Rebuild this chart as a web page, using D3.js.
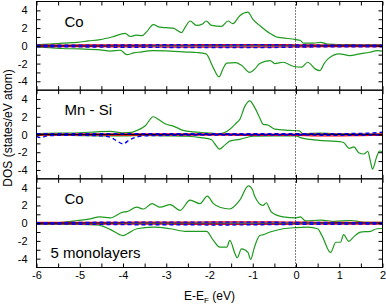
<!DOCTYPE html>
<html>
<head>
<meta charset="utf-8">
<script src="https://cdn.jsdelivr.net/npm/d3@7"></script>
<style>
    body { margin: 0; background: #fff; }
    svg text { font-family: "Liberation Sans", Arial, sans-serif; fill: #000; }
    .axis path { display: none; }
    .axis line { stroke: #000; }
</style>
</head>
<body>
<svg id="chart" width="386" height="305"></svg>
<script>
// energy grid (eV) for the small s/p curves
var eGrid = [-6, -5.5, -5, -4.5, -4, -3.5, -3, -2.5, -2, -1.5, -1, -0.5, 0, 0.5, 1, 1.5, 2];

var panelNames = ["Co", "Mn - Si", "Co"];
var xTickLabels = [-6, -5, -4, -3, -2, -1, 0, 1, 2];
var yTickLabels = [-4, -2, 0, 2, 4];

// ---- top panel: Co (d, majority / minority) ----
var coTopUp = [[-6,0.15],[-5.7,0.2],[-5.4,0.3],[-5.05,0.4],[-4.8,0.55],[-4.53,0.7],[-4.25,1.0],[-3.95,1.4],[-3.83,1.05],
    [-3.7,1.2],[-3.56,1.15],[-3.45,1.6],[-3.3,2.4],[-3.15,2.1],[-3.0,2.05],[-2.84,2.0],[-2.65,1.5],[-2.55,2.2],[-2.45,2.8],
    [-2.3,2.3],[-2.15,2.5],[-2.08,2.8],[-1.95,2.3],[-1.72,2.2],[-1.57,2.8],[-1.46,2.5],[-1.3,3.4],[-1.11,3.8],[-1.0,3.0],
    [-0.84,2.3],[-0.6,1.4],[-0.45,1.0],[-0.31,0.9],[0,0.7],[0.1,0.6],[0.18,0.3],[0.4,0.3],[0.57,0.4],[0.72,0.2],[1.0,0.15],
    [1.3,0.15],[1.6,0.1],[2,0.1]];
var coTopDn = [[-6,-0.15],[-5.7,-0.2],[-5.4,-0.3],[-5.0,-0.35],[-4.53,-0.45],[-4.3,-0.6],[-4.06,-0.5],[-3.91,-1.0],[-3.75,-0.8],
    [-3.6,-0.7],[-3.3,-0.55],[-2.9,-0.6],[-2.53,-0.7],[-2.3,-0.75],[-2.08,-0.9],[-1.92,-2.4],[-1.78,-3.5],[-1.68,-2.5],
    [-1.6,-1.95],[-1.4,-1.9],[-1.26,-2.2],[-1.07,-3.0],[-0.95,-2.6],[-0.84,-2.0],[-0.6,-1.66],[-0.49,-2.0],[-0.3,-1.85],
    [-0.07,-2.3],[0.13,-2.4],[0.27,-1.85],[0.44,-2.6],[0.55,-2.8],[0.65,-2.0],[0.74,-1.47],[1.0,-0.9],[1.24,-1.1],
    [1.47,-0.9],[1.7,-0.72],[1.88,-0.55],[2,-0.6]];
var coTopRedUp  = [0.08,0.08,0.10,0.10,0.10,0.12,0.12,0.12,0.14,0.15,0.15,0.14,0.12,0.10,0.08,0.08,0.08];
var coTopRedDn  = [-0.08,-0.08,-0.10,-0.10,-0.12,-0.12,-0.14,-0.14,-0.15,-0.15,-0.15,-0.14,-0.12,-0.10,-0.10,-0.10,-0.10];
var coTopBlueUp = [0.06,0.06,0.08,0.08,0.10,0.10,0.12,0.12,0.12,0.12,0.14,0.12,0.10,0.08,0.06,0.06,0.06];
var coTopBlueDn = [-0.10,-0.10,-0.12,-0.14,-0.16,-0.16,-0.18,-0.18,-0.18,-0.18,-0.20,-0.18,-0.14,-0.12,-0.12,-0.12,-0.12];

// ---- middle panel: Mn - Si ----
var mnUp = [[-6,0.1],[-5.5,0.15],[-5.0,0.2],[-4.6,0.3],[-4.3,0.35],[-4.0,0.2],[-3.8,0.25],[-3.68,0.45],[-3.49,0.95],
    [-3.3,2.0],[-3.15,1.6],[-3.0,1.15],[-2.84,0.95],[-2.61,0.47],[-2.38,0.3],[-2.07,0.2],[-1.76,0.1],[-1.53,0.6],
    [-1.38,1.3],[-1.3,1.7],[-1.18,3.2],[-1.07,3.8],[-0.95,3.0],[-0.84,1.9],[-0.76,1.15],[-0.65,1.07],[-0.49,0.6],
    [-0.15,0.47],[0.08,0.4],[0.16,0.1],[0.55,0.15],[1.0,0.08],[1.5,0.05],[2,0.05]];
var mnDn = [[-6,-0.1],[-5.5,-0.1],[-5.0,-0.12],[-4.5,-0.15],[-4.0,-0.15],[-3.5,-0.1],[-3.0,-0.15],[-2.5,-0.2],[-2.2,-0.35],
    [-1.95,-0.6],[-1.87,-1.1],[-1.77,-1.65],[-1.65,-1.2],[-1.53,-0.75],[-1.3,-0.55],[-1.0,-0.2],[-0.5,-0.15],[0,-0.15],
    [0.1,-0.36],[0.33,-0.55],[0.73,-0.73],[1.0,-0.8],[1.1,-0.9],[1.23,-1.56],[1.34,-1.4],[1.45,-2.05],[1.57,-2.2],
    [1.66,-1.9],[1.72,-3.0],[1.77,-3.9],[1.86,-2.6],[1.93,-1.86],[2,-2.0]];
var mnRedUp  = [0.05,0.05,0.06,0.06,0.06,0.08,0.08,0.06,0.06,0.06,0.05,0.05,0.05,0.05,0.05,0.05,0.06];
var mnRedDn  = [-0.06,-0.06,-0.08,-0.08,-0.08,-0.08,-0.08,-0.08,-0.08,-0.08,-0.10,-0.10,-0.10,-0.15,-0.15,-0.12,-0.10];
var mnBlueUp = [0.08,0.10,0.10,0.10,0.08,0.08,0.08,0.08,0.08,0.08,0.08,0.08,0.08,0.10,0.10,0.12,0.25];
var mnBlueDn = [[-6,-0.2],[-5.9,-0.35],[-5.75,-0.15],[-5.5,-0.1],[-5,-0.1],[-4.5,-0.15],[-4.3,-0.3],[-4.15,-0.7],
    [-4.0,-1.05],[-3.85,-0.6],[-3.7,-0.3],[-3.5,-0.15],[-3,-0.1],[-2,-0.05],[-1,-0.05],[0,-0.05],[1,-0.1],[2,-0.05]];

// ---- bottom panel: Co, 5 monolayers ----
var coBotUp = [[-6,0.05],[-5.68,0.0],[-5.3,0.15],[-5.06,0.3],[-4.8,0.45],[-4.53,0.7],[-4.3,0.6],[-4.0,1.25],[-3.91,1.3],
    [-3.68,1.8],[-3.53,1.6],[-3.33,2.2],[-3.14,1.8],[-2.91,2.1],[-2.68,1.45],[-2.45,2.6],[-2.22,2.2],[-2.05,3.05],
    [-1.91,2.2],[-1.76,1.8],[-1.53,1.6],[-1.3,2.6],[-1.1,4.2],[-1.0,3.7],[-0.96,3.1],[-0.76,2.0],[-0.69,2.3],
    [-0.57,1.25],[-0.3,0.7],[0,0.6],[0.1,0.7],[0.22,0.25],[0.57,0.35],[0.9,0.2],[1.26,0.3],[1.6,0.1],[2,0.1]];
var coBotDn = [[-6,-0.1],[-5.5,-0.15],[-5.0,-0.15],[-4.6,-0.2],[-4.3,-0.7],[-4.0,-1.4],[-3.9,-1.2],[-3.68,-0.63],
    [-3.3,-0.45],[-2.9,-0.63],[-2.53,-0.93],[-2.07,-0.93],[-1.91,-1.95],[-1.76,-2.7],[-1.6,-2.7],[-1.53,-1.95],
    [-1.41,-3.45],[-1.36,-3.9],[-1.26,-2.9],[-1.11,-3.3],[-1.05,-4.1],[-0.96,-2.7],[-0.84,-1.4],[-0.76,-1.3],
    [-0.6,-1.0],[-0.3,-0.63],[0,-0.5],[0.27,-0.45],[0.5,-0.63],[0.6,-1.4],[0.8,-3.3],[0.92,-2.15],[1.03,-2.15],
    [1.1,-1.3],[1.22,-2.05],[1.33,-1.57],[1.49,-1.0],[1.72,-0.93],[1.87,-0.63],[2,-0.6]];
var coBotRedUp  = [0.08,0.08,0.08,0.10,0.10,0.12,0.12,0.12,0.14,0.14,0.15,0.14,0.12,0.10,0.08,0.08,0.08];
var coBotRedDn  = [-0.08,-0.08,-0.10,-0.10,-0.12,-0.12,-0.12,-0.14,-0.14,-0.15,-0.15,-0.14,-0.12,-0.12,-0.10,-0.10,-0.10];
var coBotBlueUp = [0.06,0.06,0.08,0.10,0.10,0.12,0.12,0.12,0.12,0.12,0.12,0.10,0.08,0.08,0.06,0.06,0.06];
var coBotBlueDn = [-0.10,-0.10,-0.12,-0.14,-0.16,-0.18,-0.18,-0.18,-0.20,-0.20,-0.18,-0.16,-0.14,-0.12,-0.12,-0.10,-0.10];

var panels = [
    { up: coTopUp, dn: coTopDn, redUp: coTopRedUp, redDn: coTopRedDn, blueUp: coTopBlueUp, blueDn: coTopBlueDn },
    { up: mnUp, dn: mnDn, redUp: mnRedUp, redDn: mnRedDn, blueUp: mnBlueUp, blueDn: mnBlueDn },
    { up: coBotUp, dn: coBotDn, redUp: coBotRedUp, redDn: coBotRedDn, blueUp: coBotBlueUp, blueDn: coBotBlueDn }
];

function onGrid(vals) {
    return vals.map(function (v, i) { return [eGrid[i], v]; });
}
function asPairs(vals) {
    return typeof vals[0] === "number" ? onGrid(vals) : vals;
}

var svg = d3.select("#chart");
var margin = { top: 1.5, right: 3.5, bottom: 37.5, left: 36.5 };
var width = +svg.attr("width") - margin.left - margin.right;
var height = +svg.attr("height") - margin.top - margin.bottom;
var panelH = height / 3;

var xScale = d3.scaleLinear().domain([-6, 2]).range([0, width]);
var yScale = d3.scaleLinear().domain([-5, 5]).range([panelH, 0]);

var xMinor = d3.range(-6, 2.001, 0.5);
var yMinor = d3.range(-4, 4.001, 1);

var line = d3.line()
    .x(function (d) { return xScale(d[0]); })
    .y(function (d) { return yScale(d[1]); })
    .curve(d3.curveMonotoneX);

var root = svg.append("g")
    .attr("transform", "translate(" + margin.left + "," + margin.top + ")");

panels.forEach(function (p, i) {
    var g = root.append("g").attr("transform", "translate(0," + (i * panelH) + ")");

    g.append("path").datum(p.up).attr("d", line)
        .attr("fill", "none").attr("stroke", "#1e9a1e").attr("stroke-width", 1.2);
    g.append("path").datum(p.dn).attr("d", line)
        .attr("fill", "none").attr("stroke", "#1e9a1e").attr("stroke-width", 1.2);

    [p.redUp, p.redDn].forEach(function (s) {
        g.append("path").datum(asPairs(s)).attr("d", line)
            .attr("fill", "none").attr("stroke", "#ff0000").attr("stroke-width", 1.2);
    });

    g.append("line")
        .attr("x1", xScale(-6)).attr("x2", xScale(2))
        .attr("y1", yScale(0)).attr("y2", yScale(0))
        .attr("stroke", "#000").attr("stroke-width", 1);

    [p.blueUp, p.blueDn].forEach(function (s) {
        g.append("path").datum(asPairs(s)).attr("d", line)
            .attr("fill", "none").attr("stroke", "#0000ff").attr("stroke-width", 1.4)
            .attr("stroke-dasharray", "4,3");
    });

    var yLeft = d3.axisLeft(yScale)
        .tickValues(yMinor)
        .tickFormat(function (d) { return yTickLabels.indexOf(d) >= 0 ? String(d) : ""; })
        .tickSizeInner(-4).tickSizeOuter(0).tickPadding(9);
    var yRight = d3.axisRight(yScale)
        .tickValues(yMinor).tickFormat("")
        .tickSizeInner(-4).tickSizeOuter(0);
    var xTop = d3.axisTop(xScale)
        .tickValues(xMinor).tickFormat("")
        .tickSizeInner(-4).tickSizeOuter(0);
    var xBottom = d3.axisBottom(xScale)
        .tickValues(xMinor)
        .tickFormat(function (d) { return (i === 2 && xTickLabels.indexOf(d) >= 0) ? String(d) : ""; })
        .tickSizeInner(-4).tickSizeOuter(0).tickPadding(4);

    g.append("g").attr("class", "axis").call(yLeft)
        .selectAll("text").attr("font-size", 11).style("font-family", "Liberation Sans, Arial, sans-serif");
    g.append("g").attr("class", "axis").attr("transform", "translate(" + width + ",0)").call(yRight);
    g.append("g").attr("class", "axis").call(xTop);
    g.append("g").attr("class", "axis").attr("transform", "translate(0," + panelH + ")").call(xBottom)
        .selectAll("text").attr("font-size", 11).style("font-family", "Liberation Sans, Arial, sans-serif");

    g.append("rect")
        .attr("width", width).attr("height", panelH)
        .attr("fill", "none").attr("stroke", "#000").attr("stroke-width", 1);

    g.append("text")
        .attr("x", 28).attr("y", 25)
        .attr("font-size", 15)
        .text(panelNames[i]);
});

root.append("text")
    .attr("x", 14).attr("y", 2 * panelH + 79)
    .attr("font-size", 15)
    .text("5 monolayers");

// Fermi level
root.append("line")
    .attr("x1", xScale(0) - 0.5).attr("x2", xScale(0) - 0.5)
    .attr("y1", 0).attr("y2", height)
    .attr("stroke", "#000").attr("stroke-width", 1)
    .attr("stroke-dasharray", "1,2");

var xt = svg.append("text")
    .attr("x", margin.left + width / 2).attr("y", 300)
    .attr("text-anchor", "middle").attr("font-size", 12);
xt.append("tspan").text("E-E");
xt.append("tspan").attr("font-size", 8).attr("dy", 3).text("F");
xt.append("tspan").attr("dy", -3).text(" (eV)");

svg.append("text")
    .attr("transform", "translate(12,128) rotate(-90)")
    .attr("text-anchor", "middle").attr("font-size", 12)
    .text("DOS (states/eV atom)");
</script>
</body>
</html>
